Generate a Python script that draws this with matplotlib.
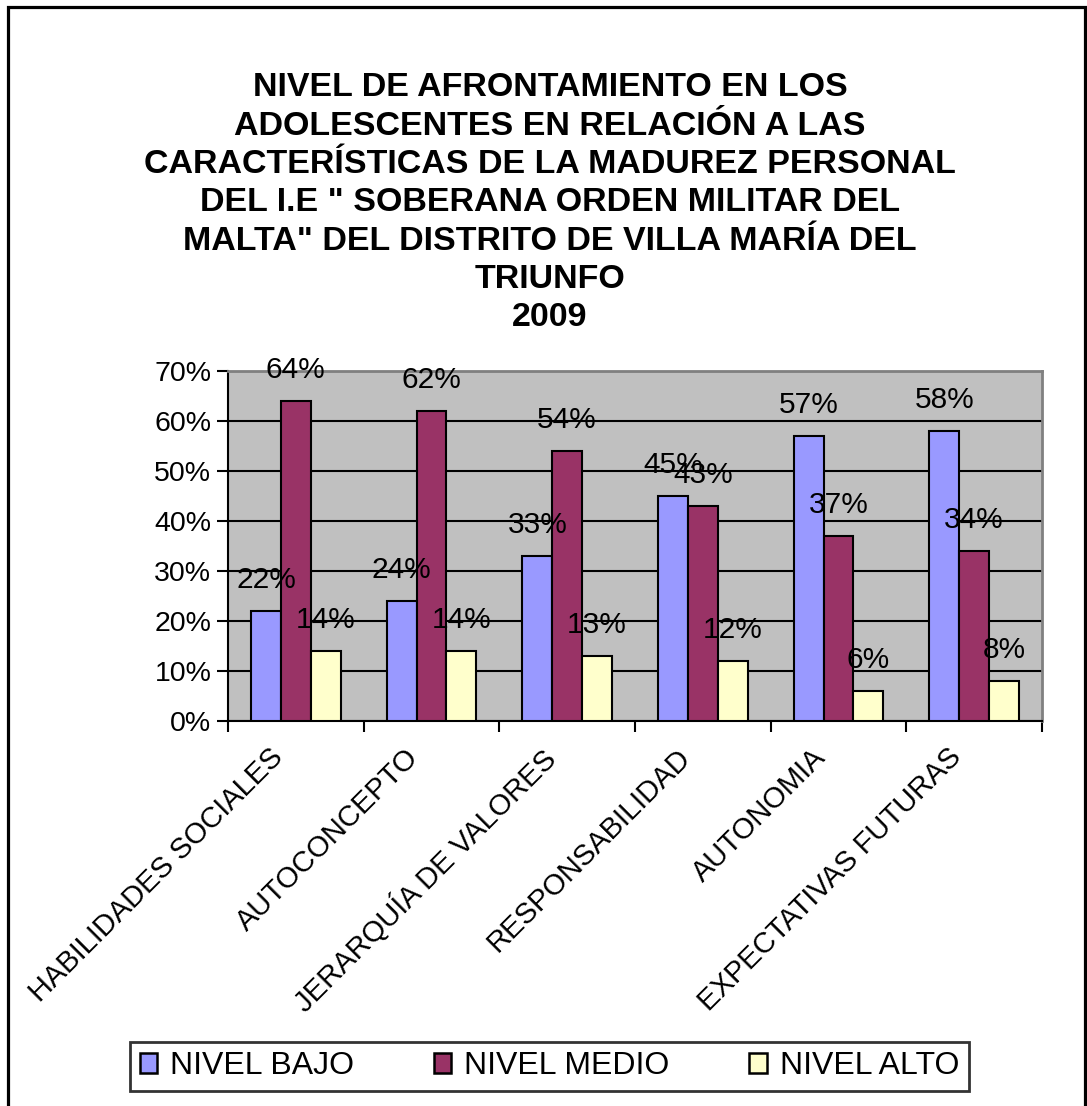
import matplotlib.pyplot as plt
import numpy as np
from matplotlib.patches import Patch, Rectangle

# Data
categorias = ['HABILIDADES SOCIALES', 'AUTOCONCEPTO', 'JERARQUÍA DE VALORES',
              'RESPONSABILIDAD', 'AUTONOMIA', 'EXPECTATIVAS FUTURAS']
nivel_bajo = [22, 24, 33, 45, 57, 58]
nivel_medio = [64, 62, 54, 43, 37, 34]
nivel_alto = [14, 14, 13, 12, 6, 8]
series = ['NIVEL BAJO', 'NIVEL MEDIO', 'NIVEL ALTO']
colores = ['#9999FF', '#993366', '#FFFFCC']

titulo = ['NIVEL DE AFRONTAMIENTO EN LOS',
          'ADOLESCENTES EN RELACIÓN A LAS',
          'CARACTERÍSTICAS DE LA MADUREZ PERSONAL',
          'DEL I.E " SOBERANA ORDEN MILITAR DEL',
          'MALTA" DEL DISTRITO DE VILLA MARÍA DEL',
          'TRIUNFO',
          '2009']

plt.rcParams['font.family'] = ['Liberation Sans', 'DejaVu Sans']

W, H = 1087, 1106
fig = plt.figure(figsize=(W / 100, H / 100), dpi=100, facecolor='white')
ax = fig.add_axes([228 / W, 1 - 721 / H, (1042 - 228) / W, (721 - 371) / H])
ax.set_facecolor('#C0C0C0')

# Outer border of the chart (bottom edge falls outside the picture)
fig.patches.append(Rectangle((8 / W, -0.02), (1085 - 8) / W, 1.02 - 7 / H, transform=fig.transFigure,
                             fill=False, edgecolor='black', linewidth=2.3))

# Title lines
for i, linea in enumerate(titulo):
    fig.text(0.506, 1 - (88 + i * 38.3) / H, linea, ha='center', va='center',
             fontsize=24.5, fontweight='bold')

x = np.arange(len(categorias))
ancho = 0.22
for j, (vals, nombre, col) in enumerate(zip([nivel_bajo, nivel_medio, nivel_alto], series, colores)):
    pos = x + (j - 1) * ancho
    ax.bar(pos, vals, width=ancho, color=col, edgecolor='black', linewidth=1.5, zorder=3, label=nombre)
    for px, v in zip(pos, vals):
        ax.annotate(f'{v}%', (px, v), xytext=(0, 22), textcoords='offset points',
                    ha='center', va='center', fontsize=21.5, zorder=5)

ax.set_xlim(-0.5, len(categorias) - 0.5)
ax.set_ylim(0, 70)
ax.set_yticks(np.arange(0, 71, 10))
ax.set_yticklabels([f'{v}%' for v in range(0, 71, 10)], fontsize=20.5)
ax.yaxis.grid(True, color='black', linewidth=1.5, zorder=0)
ax.set_axisbelow(True)

# Ticks at category boundaries, rotated category labels below each group
ax.set_xticks(np.arange(-0.5, len(categorias), 1))
ax.set_xticklabels([])
for xi, lab in zip(x, categorias):
    ax.annotate(lab, (xi, 0), xycoords=('data', 'axes fraction'), xytext=(-27, -22),
                textcoords='offset pixels', rotation=45, ha='right', va='top',
                rotation_mode='anchor', fontsize=21, annotation_clip=False)
ax.tick_params(axis='x', which='major', length=8, width=1.5, direction='out')
ax.tick_params(axis='y', length=8, width=1.5, direction='out', pad=4)

for s in ['left', 'bottom']:
    ax.spines[s].set_color('black')
    ax.spines[s].set_linewidth(1.5)
for s in ['top', 'right']:
    ax.spines[s].set_color('#808080')
    ax.spines[s].set_linewidth(2)

handles = [Patch(facecolor=c, edgecolor='black', linewidth=1.8) for c in colores]
leg = fig.legend(handles, series, loc='lower left',
                 bbox_to_anchor=(130 / W, 1 - 1091 / H), ncol=3,
                 fontsize=23, frameon=True, fancybox=False, edgecolor='black',
                 handlelength=0.55, handleheight=0.6, handletextpad=0.4,
                 columnspacing=2.5, borderpad=0.3, borderaxespad=0)
leg.get_frame().set_linewidth(2)

plt.savefig('out.png', dpi=100, facecolor='white')
